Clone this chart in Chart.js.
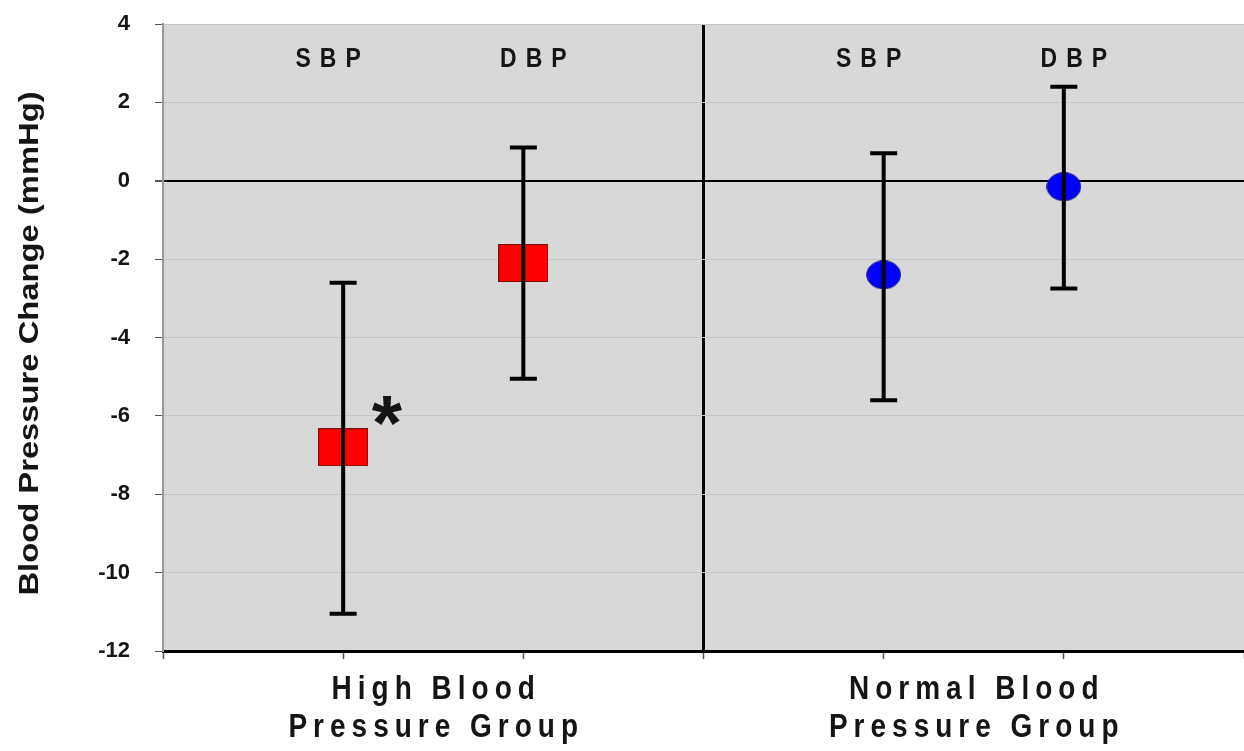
<!DOCTYPE html>
<html>
<head>
<meta charset="utf-8">
<script src="https://cdn.jsdelivr.net/npm/chart.js@4.4.0/dist/chart.umd.min.js"></script>
<style>
  html, body { margin: 0; padding: 0; background: #fff; }
  #wrap { width: 1244px; height: 751px; }
</style>
</head>
<body>
<div id="wrap"><canvas id="bpChart" width="1244" height="751"></canvas></div>
<script>
// values
const measures = ['SBP', 'DBP'];
const groupLabels = [['High Blood', 'Pressure Group'], ['Normal Blood', 'Pressure Group']];
const groupCenters = [1.5, 4.5];
const highX = [1, 2];
const highMean = [-6.8, -2.1];
const highUpper = [-2.6, 0.85];
const highLower = [-11.05, -5.05];
const normalX = [4, 5];
const normalMean = [-2.4, -0.15];
const normalUpper = [0.7, 2.4];
const normalLower = [-5.6, -2.75];
const yTicks = [4, 2, 0, -2, -4, -6, -8, -10, -12];
const yTitle = 'Blood Pressure Change (mmHg)';
const font = '"Liberation Sans", Arial, sans-serif';

function makeMarker(shape, w, h, fill, stroke) {
    const c = document.createElement('canvas');
    c.width = w; c.height = h;
    const g = c.getContext('2d');
    g.fillStyle = fill;
    g.strokeStyle = stroke;
    g.lineWidth = 1;
    if (shape === 'rect') {
        g.fillRect(0, 0, w, h);
        g.strokeRect(0.5, 0.5, w - 1, h - 1);
    } else {
        g.beginPath();
        g.ellipse(w / 2, h / 2, w / 2 - 0.5, h / 2 - 0.5, 0, 0, Math.PI * 2);
        g.fill();
        g.stroke();
    }
    return c;
}

const redBox = makeMarker('rect', 50, 38, '#ff0000', '#7a1010');
const blueDot = makeMarker('ellipse', 35, 29, '#0000ff', '#20207a');

// text drawn a bit taller than wide, like the source picture
function stretchedText(ctx, text, x, y, size, spacing, sy) {
    ctx.save();
    ctx.font = 'bold ' + size + 'px ' + font;
    ctx.letterSpacing = spacing + 'px';
    ctx.textAlign = 'center';
    ctx.textBaseline = 'middle';
    ctx.translate(x + spacing / 2, y);
    ctx.scale(1, sy);
    ctx.fillText(text, 0, 0);
    ctx.restore();
}

const backdrop = {
    id: 'backdrop',
    beforeDraw(chart) {
        const a = chart.chartArea, ctx = chart.ctx;
        ctx.save();
        ctx.fillStyle = '#d8d8d8';
        ctx.fillRect(a.left, a.top, a.right - a.left, a.bottom - a.top);
        ctx.restore();
    }
};

// error bars, SBP/DBP headers, asterisk, group labels, axis title
const extras = {
    id: 'extras',
    afterDatasetsDraw(chart) {
        const ctx = chart.ctx, xs = chart.scales.x, ys = chart.scales.y;
        ctx.save();
        ctx.strokeStyle = '#000';
        ctx.lineWidth = 4;
        const bars = [[highX, highUpper, highLower], [normalX, normalUpper, normalLower]];
        bars.forEach(([xv, up, lo]) => {
            xv.forEach((x, i) => {
                const px = xs.getPixelForValue(x);
                const top = ys.getPixelForValue(up[i]);
                const bot = ys.getPixelForValue(lo[i]);
                ctx.beginPath();
                ctx.moveTo(px, top); ctx.lineTo(px, bot);
                ctx.moveTo(px - 13.5, top); ctx.lineTo(px + 13.5, top);
                ctx.moveTo(px - 13.5, bot); ctx.lineTo(px + 13.5, bot);
                ctx.stroke();
            });
        });
        ctx.restore();
    },
    afterDraw(chart) {
        const ctx = chart.ctx, xs = chart.scales.x, ys = chart.scales.y;
        ctx.save();
        ctx.fillStyle = '#151515';

        // SBP / DBP headers
        const headShift = [-15, 10];
        [highX, normalX].forEach(xv => {
            xv.forEach((x, i) => {
                stretchedText(ctx, measures[i], xs.getPixelForValue(x) + headShift[i], 59, 23, 9, 1.22);
            });
        });

        // significance mark
        ctx.font = 'bold 78px ' + font;
        const m = ctx.measureText('*');
        const cx = xs.getPixelForValue(highX[0]) + 44;
        const cy = ys.getPixelForValue(highMean[0]) - 36;
        ctx.textAlign = 'left';
        ctx.textBaseline = 'alphabetic';
        ctx.fillText('*',
            cx - (m.actualBoundingBoxRight - m.actualBoundingBoxLeft) / 2 + m.actualBoundingBoxLeft,
            cy + (m.actualBoundingBoxAscent - m.actualBoundingBoxDescent) / 2);

        // group labels under the axis
        groupLabels.forEach((lines, g) => {
            const px = xs.getPixelForValue(groupCenters[g]);
            lines.forEach((t, j) => stretchedText(ctx, t, px, xs.bottom - 61 + j * 38, 28, 6, 1.2));
        });

        // y axis title
        ctx.save();
        ctx.font = 'bold 28px ' + font;
        ctx.textAlign = 'center';
        ctx.textBaseline = 'alphabetic';
        ctx.translate(38, (ys.top + ys.bottom) / 2 + 6);
        ctx.rotate(-Math.PI / 2);
        ctx.scale(1.17, 1);
        ctx.fillText(yTitle, 0, 0);
        ctx.restore();

        ctx.restore();
    }
};

new Chart(document.getElementById('bpChart'), {
    type: 'scatter',
    data: {
        datasets: [
            {
                label: 'High',
                data: highX.map((x, i) => ({ x: x, y: highMean[i] })),
                pointStyle: redBox,
                pointRadius: 25
            },
            {
                label: 'Normal',
                data: normalX.map((x, i) => ({ x: x, y: normalMean[i] })),
                pointStyle: blueDot,
                pointRadius: 18
            }
        ]
    },
    options: {
        responsive: false,
        animation: false,
        layout: { autoPadding: false, padding: { top: 24, right: 0, left: 0, bottom: 0 } },
        plugins: {
            legend: { display: false },
            tooltip: { enabled: false }
        },
        scales: {
            x: {
                type: 'linear',
                min: 0,
                max: 6,
                afterFit(s) { s.height = 100; s.paddingLeft = 0; s.paddingRight = 0; },
                ticks: { stepSize: 1, display: false },
                border: { color: '#000', width: 3 },
                grid: {
                    color: c => (c.tick && c.tick.value === 3) ? '#000' : 'rgba(0,0,0,0)',
                    lineWidth: 3,
                    tickColor: '#555',
                    tickLength: 8,
                    tickWidth: 1.5
                }
            },
            y: {
                min: -12,
                max: 4,
                afterFit(s) { s.width = 163; s.paddingTop = 0; s.paddingBottom = 0; },
                afterBuildTicks(s) { s.ticks = yTicks.map(v => ({ value: v })); },
                ticks: {
                    color: '#151515',
                    padding: 25,
                    font: { family: font, size: 22, weight: 'bold' }
                },
                border: { color: '#999', width: 2 },
                grid: {
                    color: c => (c.tick && c.tick.value === 0) ? '#000' : '#c6c6c6',
                    lineWidth: c => (c.tick && c.tick.value === 0) ? 2 : 1,
                    tickColor: '#555',
                    tickLength: 8
                }
            }
        }
    },
    plugins: [backdrop, extras]
});
</script>
</body>
</html>
